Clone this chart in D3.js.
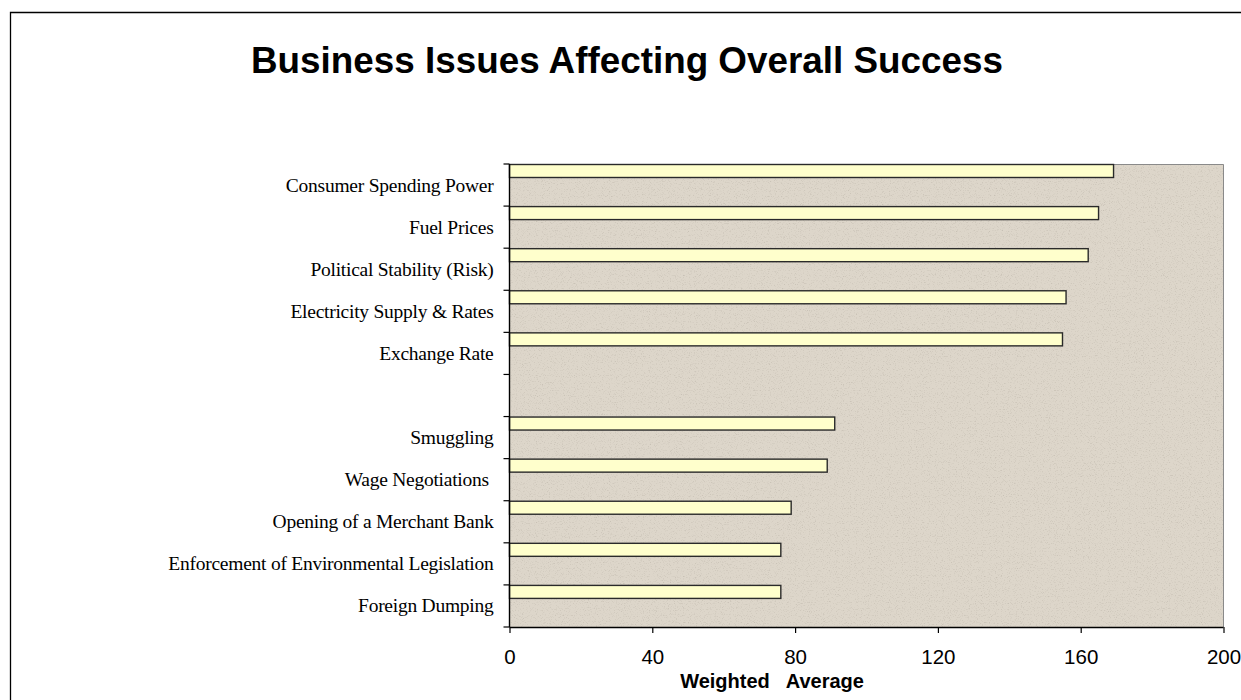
<!DOCTYPE html>
<html>
<head>
<meta charset="utf-8">
<script src="https://cdn.jsdelivr.net/npm/d3@7"></script>
<style>
  html, body { margin: 0; padding: 0; background: #ffffff; }
  svg { display: block; }
</style>
</head>
<body>
<svg id="chart" width="1241" height="700"></svg>
<script>
// Issues ranked by weighted average score; the empty slot separates the top five from the rest.
const categories = [
  "Consumer Spending Power",
  "Fuel Prices",
  "Political Stability (Risk)",
  "Electricity Supply & Rates",
  "Exchange Rate",
  "",
  "Smuggling",
  "Wage Negotiations ",
  "Opening of a Merchant Bank",
  "Enforcement of Environmental Legislation",
  "Foreign Dumping"
];
const weightedAverage = [169.2, 165.0, 162.1, 155.9, 154.9, null, 91.1, 89.0, 78.9, 76.0, 76.0];
const xTicks = [0, 40, 80, 120, 160, 200];

const titleText = "Business Issues Affecting Overall Success";
const xAxisTitle = "Weighted   Average";

const svg = d3.select("#chart");
const W = 1241, H = 700;
const plot = { left: 509.5, right: 1223.5, top: 164, bottom: 627 };

// outer frame (left and top edges visible)
svg.append("path")
  .attr("d", `M10.5,${H} L10.5,12.5 L${W},12.5`)
  .attr("fill", "none")
  .attr("stroke", "#000")
  .attr("stroke-width", 1.3);

// title
svg.append("text")
  .attr("x", 627)
  .attr("y", 72.7)
  .attr("text-anchor", "middle")
  .attr("font-family", "Liberation Sans, Arial, sans-serif")
  .attr("font-weight", "bold")
  .attr("font-size", 36.5)
  .attr("textLength", 752)
  .attr("lengthAdjust", "spacingAndGlyphs")
  .attr("fill", "#000")
  .text(titleText);

// textured beige plot background
const defs = svg.append("defs");
const f = defs.append("filter").attr("id", "grain")
  .attr("x", 0).attr("y", 0).attr("width", "100%").attr("height", "100%");
f.append("feTurbulence")
  .attr("type", "fractalNoise")
  .attr("baseFrequency", 0.85)
  .attr("numOctaves", 2)
  .attr("seed", 7)
  .attr("result", "noise");
f.append("feColorMatrix")
  .attr("in", "noise")
  .attr("type", "matrix")
  .attr("values", "0 0 0 0 0.45  0 0 0 0 0.41  0 0 0 0 0.35  -2.6 0 0 0 1.2")
  .attr("result", "specks");
f.append("feComposite").attr("in", "specks").attr("in2", "SourceGraphic").attr("operator", "in");

const x = d3.scaleLinear().domain([0, 200]).range([plot.left, plot.right]);
const y = d3.scaleBand().domain(d3.range(categories.length))
  .range([plot.top, plot.bottom]).paddingInner(0).paddingOuter(0);

svg.append("rect")
  .attr("x", plot.left).attr("y", plot.top)
  .attr("width", plot.right - plot.left).attr("height", plot.bottom - plot.top)
  .attr("fill", "#ddd6ca");
svg.append("rect")
  .attr("x", plot.left).attr("y", plot.top)
  .attr("width", plot.right - plot.left).attr("height", plot.bottom - plot.top)
  .attr("fill", "#ddd6ca")
  .attr("opacity", 0.55)
  .attr("filter", "url(#grain)");

// plot border (top and right)
svg.append("path")
  .attr("d", `M${plot.left},${plot.top + 0.5} L${plot.right},${plot.top + 0.5} L${plot.right},${plot.bottom}`)
  .attr("fill", "none")
  .attr("stroke", "#8a8a8a")
  .attr("stroke-width", 1);

// bars: each sits at the top of its band
const barH = 13;
svg.append("g").selectAll("rect")
  .data(weightedAverage.map((v, i) => ({ v, i })).filter(d => d.v != null))
  .join("rect")
  .attr("x", x(0))
  .attr("y", d => y(d.i) + 0.5)
  .attr("width", d => x(d.v) - x(0))
  .attr("height", barH)
  .attr("fill", "#ffffcc")
  .attr("stroke", "#2a2a2a")
  .attr("stroke-width", 1.4);

// y axis: ticks at band boundaries, labels centred in each band
const yAxis = svg.append("g");
yAxis.append("line")
  .attr("x1", plot.left).attr("x2", plot.left)
  .attr("y1", plot.top).attr("y2", plot.bottom)
  .attr("stroke", "#000").attr("stroke-width", 1.4);
const bounds = d3.range(categories.length + 1).map(i => plot.top + i * y.step());
yAxis.selectAll("line.tick")
  .data(bounds)
  .join("line")
  .attr("class", "tick")
  .attr("x1", plot.left - 6).attr("x2", plot.left)
  .attr("y1", d => d).attr("y2", d => d)
  .attr("stroke", "#000").attr("stroke-width", 1.2);
yAxis.selectAll("text")
  .data(categories.map((c, i) => ({ c, i })).filter(d => d.c !== ""))
  .join("text")
  .attr("x", 493.5)
  .attr("y", d => y(d.i) + y.bandwidth() / 2 + 6.5)
  .attr("text-anchor", "end")
  .attr("xml:space", "preserve")
  .style("white-space", "pre")
  .attr("font-family", "Liberation Serif, Times New Roman, serif")
  .attr("font-size", 19.5)
  .attr("letter-spacing", -0.25)
  .attr("fill", "#000")
  .text(d => d.c);

// x axis
const xAxis = svg.append("g").attr("transform", `translate(0,${plot.bottom})`)
  .call(d3.axisBottom(x).tickValues(xTicks).tickSize(6).tickPadding(14).tickFormat(d3.format("d")));
xAxis.select(".domain").attr("stroke", "#000").attr("stroke-width", 1.4)
  .attr("d", `M${plot.left},0.5H${plot.right}`);
xAxis.selectAll(".tick line").attr("stroke", "#000").attr("stroke-width", 1.2);
xAxis.selectAll(".tick text")
  .attr("font-family", "Liberation Sans, Arial, sans-serif")
  .attr("font-size", 20.5)
  .attr("fill", "#000")
  .attr("dy", null)
  .attr("y", 37);

// x axis title
svg.append("text")
  .attr("x", 772)
  .attr("y", 688)
  .attr("text-anchor", "middle")
  .style("white-space", "pre")
  .attr("font-family", "Liberation Sans, Arial, sans-serif")
  .attr("font-weight", "bold")
  .attr("font-size", 20)
  .attr("fill", "#000")
  .text(xAxisTitle);
</script>
</body>
</html>
